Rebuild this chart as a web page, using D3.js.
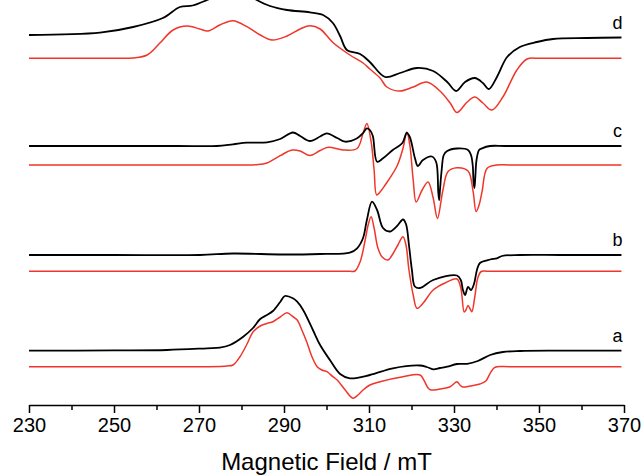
<!DOCTYPE html>
<html>
<head>
<meta charset="utf-8">
<script src="https://cdn.jsdelivr.net/npm/d3@7"></script>
<style>
  body { margin: 0; background: #fff; }
  svg { display: block; }
</style>
</head>
<body>
<svg width="641" height="475"></svg>
<script>
// tick values (mT)
var majorTicks = [230, 250, 270, 290, 310, 330, 350, 370];
var minorTicks = [240, 260, 280, 300, 320, 340, 360];

// spectrum labels and vertical offsets (arbitrary units)
var labels = ["a", "b", "c", "d"];
var expOffsets = [54.3, 150, 259, 367.5];
var simOffsets = [38.3, 133.7, 240, 346.7];

// a
var fieldAExp = [230, 250, 262.5, 271.9, 274.9, 277.3, 280.4, 282.7, 284.4, 286.0, 287.4, 289.1, 290.2, 292.1, 293.1, 294.5, 296.8, 298.5, 300.8, 303.2, 305.5, 310.2, 315.6, 322.0, 323.6, 325.1, 326.7, 328.4, 330.7, 333.1, 335.6, 338.5, 341.5, 345.5, 355, 369.4];
var sigAExp = [0, 0.3, 0.7, 2.4, 3, 5.7, 14, 22.7, 31.7, 35.7, 39.7, 48.7, 54.7, 52.4, 49, 40.7, 20.7, 5.7, -9.3, -23.3, -27.6, -24.3, -17.6, -14.8, -16.3, -18.6, -17.3, -16, -13.3, -13.1, -10.3, -4.3, -1.3, -0.3, 0, 0];
var fieldASim = [230, 260, 272, 276.6, 278.0, 279.6, 281.3, 282.7, 284.4, 286.0, 287.4, 289.1, 290.7, 292.1, 293.1, 294.2, 295.4, 296.6, 297.8, 298.9, 300.1, 301.5, 302.5, 304.4, 306.2, 307.4, 308.6, 310.2, 312.6, 318.0, 322.0, 322.9, 323.9, 324.6, 326.7, 329.1, 330.2, 330.7, 331.4, 332.1, 333.8, 336.1, 337.5, 338.5, 339.4, 340.1, 343, 355, 369.4];
var sigASim = [0, 0, 0, 0.7, 1.7, 9.7, 22.7, 34.7, 40.7, 43.2, 45, 49.7, 54, 50, 46.7, 36.7, 24.2, 9.7, 0, -3.3, -5, -10, -13.3, -23.3, -31.6, -28.3, -23.3, -18.3, -15, -10, -8.3, -13.3, -21.3, -23.3, -22.3, -20, -16.3, -15, -18.3, -20.3, -19.3, -17.3, -14.3, -6.6, -1.3, 0, 0, 0, 0];

// b
var fieldBExp = [230, 250, 270.2, 278, 289.8, 298.5, 305.5, 307.2, 308.6, 309.5, 310.7, 311.9, 313.3, 314.9, 316.6, 318.0, 318.7, 319.4, 320.1, 320.8, 322.0, 325.1, 330.7, 331.6, 332.1, 332.6, 333.3, 334.0, 334.7, 335.4, 336.1, 338.5, 340.1, 341.3, 345.5, 355, 369.4];
var sigBExp = [0, 0, 0, 1.5, 0.5, 1, 2.3, 6.7, 17, 35, 53.3, 45, 27, 23.5, 29, 35.5, 31, 10, -15, -31.5, -33, -25, -20.5, -25, -35, -40, -32, -35, -29, -15, -8, -4.5, -3.3, -1, 0, 0, 0];
var fieldBSim = [230, 260, 290, 302, 305.5, 306.7, 307.9, 309.1, 309.8, 310.5, 311.2, 312.1, 313.1, 314.5, 315.6, 316.8, 318.0, 318.7, 319.4, 320.4, 321.3, 322.7, 325.1, 327.9, 330.7, 331.6, 332.4, 332.8, 333.3, 333.8, 334.2, 334.9, 335.6, 336.4, 338, 345, 355, 369.4];
var sigBSim = [0, 0, 0, 0, 0, 0.3, 9.3, 31.3, 46.3, 54.6, 43.3, 23.3, 14.3, 11.3, 17.3, 26.3, 34.6, 26.3, 1.3, -23.7, -37, -32, -18.7, -11.7, -7.7, -16.7, -40.7, -38.7, -34.2, -37.7, -40.4, -25.4, -6.7, -0.2, 0, 0, 0, 0];

// c
var fieldCExp = [230, 250, 265, 274.2, 278.0, 281.3, 286.0, 289.1, 292.1, 293.8, 296.1, 298.5, 300.1, 302.5, 304.4, 307.2, 308.6, 309.5, 310.2, 310.9, 311.9, 313.3, 315.6, 317.8, 318.9, 319.6, 320.8, 321.5, 322.7, 324.8, 325.8, 326.3, 326.5, 326.7, 327.1, 327.6, 328.4, 330.7, 333.3, 334.0, 334.4, 334.6, 334.8, 335.0, 335.3, 335.9, 336.6, 338.5, 342, 355, 369.4];
var sigCExp = [0, 0, 0, 0, 1.7, 3.3, 3.7, 7, 13.5, 10, 5, 9.5, 12.7, 8, 4.3, 7.7, 13, 17.7, 16, 10, -15.7, -12.3, -4, 2.7, 13, 9, -12, -20, -14, -10.5, -16, -46, -54, -44, -24, -9, -5, -2.5, -4, -9, -19, -36, -42, -32, -14, -4, -2.3, 0, 0, 0, 0];
var fieldCSim = [230, 255, 272, 280, 283.6, 286.0, 289.1, 291.9, 293.8, 296.1, 298.5, 300.4, 303.9, 307.2, 308.6, 309.5, 310.5, 311.2, 311.8, 312.6, 313.8, 316.6, 318.0, 318.9, 319.6, 320.4, 321.1, 322.5, 323.9, 325.1, 326.1, 327.4, 328.6, 330.7, 333.3, 334.5, 335.2, 335.9, 336.6, 337.8, 340.1, 343, 355, 369.4];
var sigCSim = [0, 0, 0, 0, 0.3, 2, 9.3, 15, 14, 9.5, 14.5, 17.7, 15, 16.5, 31.7, 41.5, 23.3, -5, -30, -27, -20, -1, 16.7, 33, 20, -15, -37, -25, -17, -33, -53.5, -25, -6.5, -2.7, -6, -26.7, -46.5, -40, -26.7, -3.3, 0, 0, 0, 0];

// d
var fieldDExp = [230, 246.7, 254.5, 261.5, 265.5, 268.5, 271.9, 274.9, 278.9, 282.0, 283.6, 286.7, 290.7, 296.1, 299.2, 301.5, 303.2, 304.8, 307.9, 310.2, 313.8, 317.3, 321.3, 325.1, 328.4, 330.5, 332.6, 334.9, 336.8, 338.2, 340.1, 342.5, 345.5, 349.5, 353.3, 361.3, 369.4];
var sigDExp = [2.5, 4.8, 10.5, 19.5, 30.5, 32, 37.5, 43.5, 46.5, 42.5, 37.5, 31.5, 27.5, 25.2, 22.5, 14.5, 1.5, -12.5, -16.5, -24.5, -39.5, -35.5, -30.5, -33.5, -44.5, -53.5, -44.5, -40.5, -45.5, -51.5, -39.5, -19.5, -9.5, -4.5, -1.5, -0.5, 0];
var fieldDSim = [230, 240, 250, 254.5, 257.8, 260.8, 263.9, 267.2, 270.2, 272.1, 274.9, 278.0, 281.3, 284.4, 287.2, 290.7, 293.8, 296.1, 298.5, 301.5, 305.5, 308.6, 310.2, 312.6, 314.2, 317.3, 320.4, 323.6, 326.7, 329.1, 330.7, 333.1, 334.9, 336.8, 338.9, 341.5, 344.8, 347.2, 350, 358, 369.4];
var sigDSim = [0, 0, 0, 0.3, 3.3, 15.3, 28.3, 32.3, 29.3, 27.3, 33.3, 37.6, 31.6, 23.3, 18.3, 22.3, 29.3, 32.6, 29.3, 15.8, 3.3, -4.7, -10.7, -19.7, -28.7, -32.7, -28.7, -23.7, -32.7, -44.7, -54.2, -43.7, -38.7, -44.7, -51.7, -38.7, -11.7, -0.7, 0, 0, 0];

function main() {
    var svg = d3.select("svg"),
        margin = {top: 0, right: 17, bottom: 70, left: 29},
        width = svg.attr("width") - margin.left - margin.right,
        height = svg.attr("height") - margin.top - margin.bottom;

    var g = svg.append("g")
        .attr("transform", `translate(${margin.left},${margin.top})`);

    var x = d3.scaleLinear().domain([230, 370]).range([0, width]);
    var y = d3.scaleLinear().domain([0, 405]).range([height, 0]);

    var expFields = [fieldAExp, fieldBExp, fieldCExp, fieldDExp],
        expSigs = [sigAExp, sigBExp, sigCExp, sigDExp],
        simFields = [fieldASim, fieldBSim, fieldCSim, fieldDSim],
        simSigs = [sigASim, sigBSim, sigCSim, sigDSim];

    var line = d3.line()
        .x(d => x(d[0]))
        .y(d => y(d[1]))
        .curve(d3.curveCatmullRom.alpha(0.5));

    // simulated (red) first, experimental (black) on top
    labels.forEach(function(lab, i) {
        var sim = simFields[i].map((f, k) => [f, simSigs[i][k] + simOffsets[i]]);
        g.append("path")
            .attr("d", line(sim))
            .attr("fill", "none")
            .attr("stroke", "#f0352a")
            .attr("stroke-width", 1.5);

        var exp = expFields[i].map((f, k) => [f, expSigs[i][k] + expOffsets[i]]);
        g.append("path")
            .attr("d", line(exp))
            .attr("fill", "none")
            .attr("stroke", "#000")
            .attr("stroke-width", 1.8);

        g.append("text")
            .attr("x", x(369.4) - 4)
            .attr("y", y(expOffsets[i] + 9))
            .attr("text-anchor", "middle")
            .style("font-family", "Liberation Sans, Arial, sans-serif")
            .style("font-size", "18px")
            .text(lab);
    });

    // X axis
    var axMajor = g.append("g")
        .attr("transform", `translate(0, ${height})`)
        .call(d3.axisBottom(x).tickValues(majorTicks).tickSize(8).tickSizeOuter(0).tickPadding(5));
    axMajor.selectAll("text")
        .style("font-family", "Liberation Sans, Arial, sans-serif")
        .style("font-size", "20px")
        .attr("fill", "#000");
    axMajor.selectAll("line, path").attr("stroke", "#000").attr("stroke-width", 1.5);

    var axMinor = g.append("g")
        .attr("transform", `translate(0, ${height})`)
        .call(d3.axisBottom(x).tickValues(minorTicks).tickSize(5).tickFormat(""));
    axMinor.select(".domain").remove();
    axMinor.selectAll("line").attr("stroke", "#000").attr("stroke-width", 1.5);

    g.append("text")
        .attr("x", width / 2)
        .attr("y", height + 65)
        .attr("text-anchor", "middle")
        .style("font-family", "Liberation Sans, Arial, sans-serif")
        .style("font-size", "24px")
        .text("Magnetic Field / mT");
}
main();
</script>
</body>
</html>
